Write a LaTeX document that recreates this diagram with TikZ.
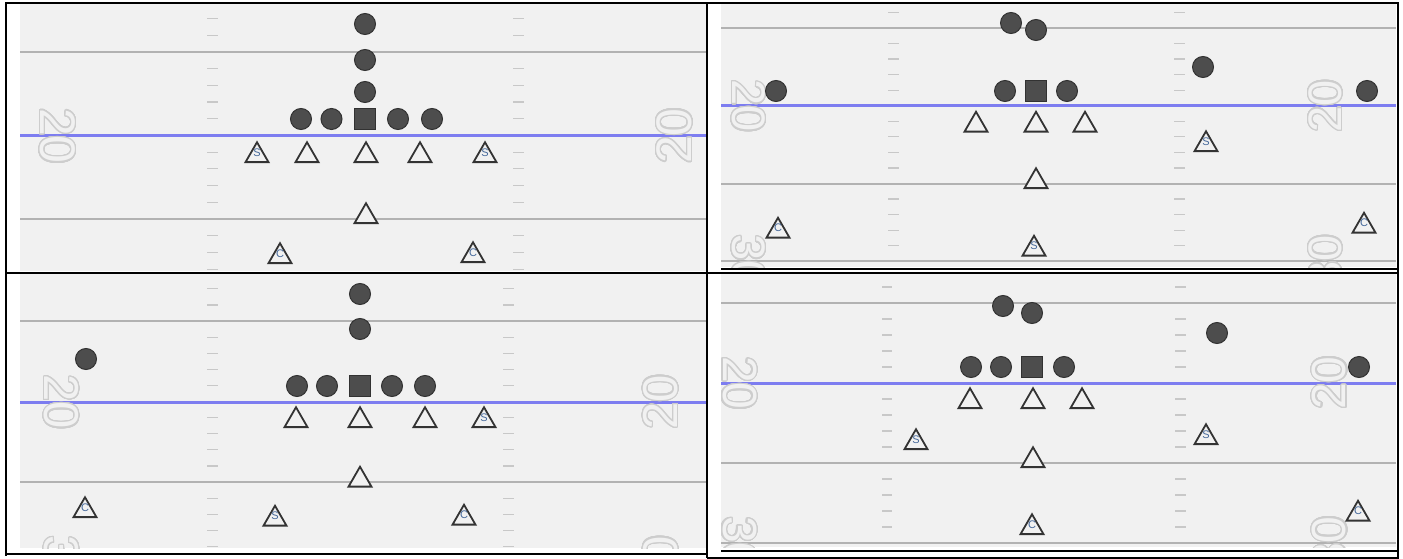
\documentclass[tikz,border=0pt]{standalone}
\usepackage{fontspec}
\setmainfont{Liberation Sans}
\usepackage{contour}
\contourlength{1.2pt}
\contournumber{32}
\usetikzlibrary{shapes.geometric}
\definecolor{fieldbg}{RGB}{241,241,241}
\definecolor{yardgray}{RGB}{178,178,178}
\definecolor{losblue}{RGB}{125,125,240}
\definecolor{hashgray}{RGB}{200,200,200}
\definecolor{numgray}{RGB}{205,205,205}
\definecolor{offfill}{RGB}{77,77,77}
\definecolor{offline}{RGB}{50,50,50}
\definecolor{defline}{RGB}{51,51,51}
\definecolor{tagblue}{RGB}{70,105,155}
\newcommand\yardnum[1]{\contour{numgray}{\color{fieldbg}#1}}
\tikzset{
  yard/.style={draw=yardgray, line width=1.5pt},
  los/.style={draw=losblue, line width=3pt},
  hash/.style={draw=hashgray, line width=1.2pt},
  frame/.style={draw=black, line width=2pt},
  oline/.style={circle, fill=offfill, draw=offline, line width=1pt, minimum size=21pt, inner sep=0pt},
  snap/.style={rectangle, fill=offfill, draw=offline, line width=1pt, minimum size=21pt, inner sep=0pt},
  dman/.style={regular polygon, regular polygon sides=3, fill=fieldbg, draw=defline, line width=1.8pt, minimum size=26.5pt, inner sep=0pt, yshift=-3pt},
  tagtext/.style={text=tagblue, font=\fontsize{11}{11}\selectfont, inner sep=0pt, yshift=3pt},
  sdman/.style={dman, label={[tagtext]center:S}},
  cdman/.style={dman, label={[tagtext]center:C}},
  numl/.style={rotate=-90, inner sep=0pt, font=\fontsize{#1}{#1}\selectfont},
  numr/.style={rotate=90, inner sep=0pt, font=\fontsize{#1}{#1}\selectfont}
}

\begin{document}
\begin{tikzpicture}[x=1pt, y=-1pt]
\fill[white] (0,0) rectangle (1403,559);
\useasboundingbox (0,0) rectangle (1403,559);
% Top left field
\begin{scope}
\clip (20,4) rectangle (706,271);
\fill[fieldbg] (20,4) rectangle (706,271);
\draw[yard] (20,52) -- (706,52);
\draw[yard] (20,219) -- (706,219);
\draw[los] (20,136) -- (706,136);
\foreach \k in {-2,-1,1,2,3,4,6,7,8,9,11,12,13} {
  \draw[hash] (207,{52+\k*16.7}) -- (218,{52+\k*16.7});
  \draw[hash] (513,{52+\k*16.7}) -- (524,{52+\k*16.7});
}
\node[numl=50] (tlNumL) at (57,136) {\yardnum{20}};
\node[numr=50] (tlNumR) at (675,136) {\yardnum{20}};
\end{scope}
% Top right field
\begin{scope}
\clip (721,4) rectangle (1396,267);
\fill[fieldbg] (721,4) rectangle (1396,267);
\draw[yard] (721,28) -- (1396,28);
\draw[yard] (721,184) -- (1396,184);
\draw[yard] (721,261) -- (1396,261);
\draw[los] (721,106) -- (1396,106);
\foreach \k in {-1,1,2,3,4,6,7,8,9,11,12,13,14} {
  \draw[hash] (888,{28+\k*15.55}) -- (899,{28+\k*15.55});
  \draw[hash] (1174,{28+\k*15.55}) -- (1185,{28+\k*15.55});
}
\node[numl=47] (trNumL) at (748,106) {\yardnum{20}};
\node[numl=47] (trNumL2) at (748,261) {\yardnum{30}};
\node[numr=47] (trNumR) at (1326,106) {\yardnum{20}};
\node[numr=47] (trNumR2) at (1326,261) {\yardnum{30}};
\end{scope}
% Bottom left field
\begin{scope}
\clip (20,274) rectangle (706,548);
\fill[fieldbg] (20,274) rectangle (706,548);
\draw[yard] (20,321) -- (706,321);
\draw[yard] (20,482) -- (706,482);
\draw[los] (20,402) -- (706,402);
\foreach \k in {-2,-1,1,2,3,4,6,7,8,9,11,12,13,14} {
  \draw[hash] (207,{321+\k*16.1}) -- (218,{321+\k*16.1});
  \draw[hash] (503,{321+\k*16.1}) -- (514,{321+\k*16.1});
}
\node[numl=49] (blNumL) at (61,402) {\yardnum{20}};
\node[numl=49] (blNumL2) at (61,563) {\yardnum{30}};
\node[numr=49] (blNumR) at (661,402) {\yardnum{20}};
\node[numr=49] (blNumR2) at (661,563) {\yardnum{30}};
\end{scope}
% Bottom right field
\begin{scope}
\clip (721,274) rectangle (1396,547);
\fill[fieldbg] (721,274) rectangle (1396,547);
\draw[yard] (721,303) -- (1396,303);
\draw[yard] (721,463) -- (1396,463);
\draw[yard] (721,543) -- (1396,543);
\draw[los] (721,383) -- (1396,383);
\foreach \k in {-1,1,2,3,4,6,7,8,9,11,12,13,14} {
  \draw[hash] (882,{303+\k*16}) -- (892,{303+\k*16});
  \draw[hash] (1175,{303+\k*16}) -- (1186,{303+\k*16});
}
\node[numl=48] (brNumL) at (739,383) {\yardnum{20}};
\node[numl=48] (brNumL2) at (739,543) {\yardnum{30}};
\node[numr=48] (brNumR) at (1330,383) {\yardnum{20}};
\node[numr=48] (brNumR2) at (1330,543) {\yardnum{30}};
\end{scope}
% Table frame
\draw[frame] (5,3) -- (1399,3);
\draw[frame] (6,3) -- (6,556);
\draw[frame] (707,3) -- (707,558);
\draw[frame] (1398,3) -- (1398,558);
\draw[frame] (5,272.5) -- (1399,272.5);
\draw[frame] (5,554) -- (707,554);
\draw[frame] (721,268.5) -- (1398,268.5);
\draw[frame] (721,551) -- (1398,551);
\draw[frame] (707,557.5) -- (1399,557.5);
% Top left: offense
\node[oline] (tlB3) at (365,24) {};
\node[oline] (tlB2) at (365,60) {};
\node[oline] (tlB1) at (365,92) {};
\node[oline] (tlLT) at (301,119) {};
\node[oline] (tlLG) at (331.5,119) {};
\node[snap] (tlC) at (365,119) {};
\node[oline] (tlRG) at (398,119) {};
\node[oline] (tlRT) at (432,119) {};
% Top left: defense
\node[sdman] (tlD1) at (257,152.5) {};
\node[dman] (tlD2) at (307,152.5) {};
\node[dman] (tlD3) at (366,152.5) {};
\node[dman] (tlD4) at (420,152.5) {};
\node[sdman] (tlD5) at (485,152.5) {};
\node[dman] (tlLB) at (366,213.5) {};
\node[cdman] (tlCB1) at (280,253.5) {};
\node[cdman] (tlCB2) at (473,252.5) {};
% Top right: offense
\node[oline] (trB1) at (1011,23) {};
\node[oline] (trB2) at (1036,30) {};
\node[oline] (trWL) at (776,91) {};
\node[oline] (trLG) at (1005,91) {};
\node[snap] (trC) at (1036,91) {};
\node[oline] (trRG) at (1067,91) {};
\node[oline] (trSL) at (1203,67) {};
\node[oline] (trWR) at (1367,91) {};
% Top right: defense
\node[dman] (trD1) at (976,122) {};
\node[dman] (trD2) at (1036,122) {};
\node[dman] (trD3) at (1085,122) {};
\node[dman] (trLB) at (1036,178.5) {};
\node[sdman] (trS1) at (1206,141.5) {};
\node[cdman] (trCB1) at (778,228) {};
\node[sdman] (trS2) at (1034,246) {};
\node[cdman] (trCB2) at (1364,223) {};
% Bottom left: offense
\node[oline] (blB2) at (360,294) {};
\node[oline] (blB1) at (360,329) {};
\node[oline] (blWR) at (86,359) {};
\node[oline] (blLT) at (297,386) {};
\node[oline] (blLG) at (327,386) {};
\node[snap] (blC) at (360,386) {};
\node[oline] (blRG) at (392,386) {};
\node[oline] (blRT) at (425,386) {};
% Bottom left: defense
\node[dman] (blD1) at (296,417.5) {};
\node[dman] (blD2) at (360,417.5) {};
\node[dman] (blD3) at (425,417.5) {};
\node[sdman] (blD4) at (484,417.5) {};
\node[dman] (blLB) at (360,477) {};
\node[cdman] (blCB1) at (85,507.5) {};
\node[sdman] (blS1) at (275,516) {};
\node[cdman] (blCB2) at (464,515) {};
% Bottom right: offense
\node[oline] (brB1) at (1003,306) {};
\node[oline] (brB2) at (1032,313) {};
\node[oline] (brLT) at (971,367) {};
\node[oline] (brLG) at (1001,367) {};
\node[snap] (brC) at (1032,367) {};
\node[oline] (brRG) at (1064,367) {};
\node[oline] (brSL) at (1217,333) {};
\node[oline] (brWR) at (1359,367) {};
% Bottom right: defense
\node[dman] (brD1) at (970,398.5) {};
\node[dman] (brD2) at (1033,398.5) {};
\node[dman] (brD3) at (1082,398.5) {};
\node[sdman] (brS1) at (916,439.5) {};
\node[dman] (brLB) at (1033,457.5) {};
\node[cdman] (brCB1) at (1032,524.5) {};
\node[sdman] (brS2) at (1206,434.5) {};
\node[cdman] (brCB2) at (1358,511) {};
\end{tikzpicture}
\end{document}
